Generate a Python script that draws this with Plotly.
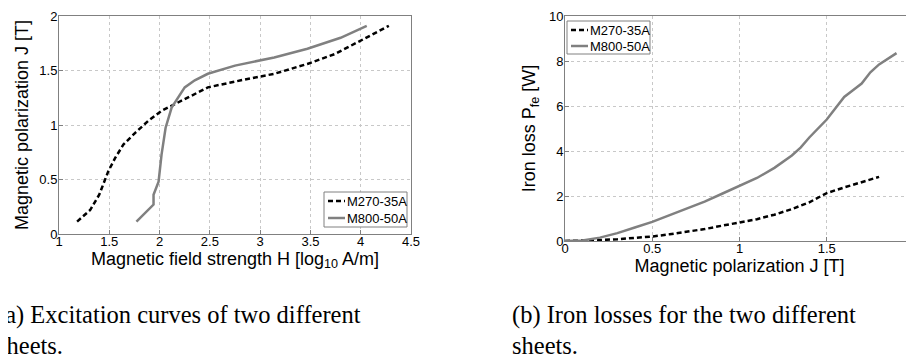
import plotly.graph_objects as go

# ---- data: excitation curves (left) ----
h_m270 = [1.18, 1.31, 1.40, 1.49, 1.56, 1.64, 1.76, 1.89, 2.02, 2.15, 2.29, 2.48, 2.81, 3.14, 3.47, 3.74, 3.97, 4.28]
j_m270 = [0.114, 0.22, 0.36, 0.575, 0.70, 0.82, 0.93, 1.04, 1.13, 1.19, 1.25, 1.345, 1.41, 1.47, 1.56, 1.65, 1.76, 1.91]
h_m800 = [1.77, 1.89, 1.94, 1.94, 1.99, 2.02, 2.06, 2.12, 2.19, 2.25, 2.35, 2.48, 2.75, 3.14, 3.47, 3.80, 4.06]
j_m800 = [0.114, 0.22, 0.27, 0.36, 0.48, 0.73, 0.975, 1.16, 1.26, 1.345, 1.41, 1.47, 1.545, 1.62, 1.70, 1.80, 1.91]

# ---- data: iron losses (right) ----
jl_m270 = [0, 0.1, 0.2, 0.3, 0.4, 0.5, 0.6, 0.7, 0.8, 0.9, 1.0, 1.1, 1.2, 1.3, 1.4, 1.5, 1.6, 1.7, 1.8]
p_m270 = [0, 0.01, 0.04, 0.08, 0.13, 0.2, 0.3, 0.4, 0.53, 0.68, 0.84, 0.97, 1.17, 1.42, 1.72, 2.13, 2.38, 2.6, 2.85]
jl_m800 = [0, 0.1, 0.2, 0.3, 0.4, 0.5, 0.6, 0.7, 0.8, 0.9, 1.0, 1.1, 1.2, 1.3, 1.35, 1.4, 1.5, 1.55, 1.6, 1.65, 1.7, 1.75, 1.8, 1.9]
p_m800 = [0, 0.02, 0.15, 0.35, 0.6, 0.85, 1.15, 1.45, 1.75, 2.1, 2.45, 2.8, 3.25, 3.8, 4.15, 4.6, 5.4, 5.9, 6.4, 6.7, 7.0, 7.5, 7.85, 8.35]

names = ["M270-35A", "M800-50A"]
left_xticks = [1, 1.5, 2, 2.5, 3, 3.5, 4, 4.5]
left_yticks = [0, 0.5, 1, 1.5, 2]
right_xticks = [0, 0.5, 1, 1.5, 2]
right_yticks = [0, 2, 4, 6, 8, 10]
captions = [["(a) Excitation curves of two different", "sheets."],
            ["(b) Iron losses for the two different", "sheets."]]

W, H = 914, 356
def px(x): return x / W
def py(y): return 1 - y / H

DASH = "5px,3px"
GRAY = "#808080"
fig = go.Figure()
dash_style = dict(color="black", width=2.5, dash=DASH)
solid_style = dict(color=GRAY, width=2.5)

fig.add_trace(go.Scatter(x=h_m270, y=j_m270, mode="lines", name=names[0], line=dash_style,
                         xaxis="x", yaxis="y"))
fig.add_trace(go.Scatter(x=h_m800, y=j_m800, mode="lines", name=names[1], line=solid_style,
                         xaxis="x", yaxis="y"))
fig.add_trace(go.Scatter(x=jl_m270, y=p_m270, mode="lines", name=names[0], line=dash_style,
                         xaxis="x2", yaxis="y2"))
fig.add_trace(go.Scatter(x=jl_m800, y=p_m800, mode="lines", name=names[1], line=solid_style,
                         xaxis="x2", yaxis="y2"))

SANS = "Liberation Sans, Arial"
tickfont = dict(family=SANS, size=13, color="black")
titlefont = dict(family=SANS, size=18, color="black")
axis_common = dict(showline=True, linecolor=GRAY, linewidth=1, mirror=True,
                   showgrid=True, gridcolor="#c8c8c8", griddash="dot", gridwidth=1,
                   ticks="inside", ticklen=4, tickcolor=GRAY, zeroline=False,
                   tickfont=tickfont, automargin=False)

fig.update_layout(
    width=W, height=H, margin=dict(l=0, r=0, t=0, b=0),
    paper_bgcolor="white", plot_bgcolor="white", showlegend=False,
    xaxis=dict(domain=[px(51), px(403)], range=[1, 4.5], tickvals=left_xticks,
               ticktext=[f"{v:g}" for v in left_xticks], anchor="y", ticklabelstandoff=-5,
               title=dict(text="Magnetic field strength H [log<sub>10</sub> A/m]", font=titlefont, standoff=0),
               **axis_common),
    yaxis=dict(domain=[py(226), py(8)], range=[0, 2], tickvals=left_yticks,
               ticktext=[f"{v:g}" for v in left_yticks], anchor="x", ticklabelstandoff=-2,
               title=dict(text="Magnetic polarization J [T]", font=titlefont, standoff=6),
               **axis_common),
    xaxis2=dict(domain=[px(557), px(906)], range=[0, 2], tickvals=right_xticks,
                ticktext=[f"{v:g}" for v in right_xticks], anchor="y2", ticklabelstandoff=-5,
                title=dict(text="Magnetic polarization J [T]", font=titlefont, standoff=0),
                **axis_common),
    yaxis2=dict(domain=[py(233), py(8)], range=[0, 10], tickvals=right_yticks,
                ticktext=[f"{v:g}" for v in right_yticks], anchor="x2", ticklabelstandoff=-2,
                title=dict(text="Iron loss P<sub>fe</sub> [W]", font=titlefont, standoff=8),
                **axis_common),
)

# ---- legends (boxed, MATLAB style) ----
def add_legend(x0, y0, x1, y1, rows):
    fig.add_shape(type="rect", xref="paper", yref="paper",
                  x0=px(x0), x1=px(x1), y0=py(y1), y1=py(y0),
                  line=dict(color=GRAY, width=1), fillcolor="white", layer="above")
    for (yy, name, style) in rows:
        fig.add_shape(type="line", xref="paper", yref="paper",
                      x0=px(x0 + 4), x1=px(x0 + 21), y0=py(yy), y1=py(yy),
                      line=style, layer="above")
        fig.add_annotation(x=px(x0 + 21), y=py(yy), xref="paper", yref="paper",
                           text=name, showarrow=False, xanchor="left", yanchor="middle",
                           font=dict(family=SANS, size=13, color="black"))

leg_dash = dict(color="black", width=2.5, dash=DASH)
leg_solid = dict(color=GRAY, width=2.5)
add_legend(316, 184, 399, 219, [(193, names[0], leg_dash), (210, names[1], leg_solid)])
add_legend(559, 13, 642, 46, [(22, names[0], leg_dash), (38, names[1], leg_solid)])

# ---- captions ----
capfont = dict(family="Liberation Serif", size=24.5, color="black")
for i, cx in enumerate([-13, 502]):
    for j, line in enumerate(captions[i]):
        fig.add_annotation(x=px(cx), y=py(307 + 30 * j), xref="paper", yref="paper",
                           text=line, showarrow=False, xanchor="left", yanchor="middle",
                           font=capfont)

fig.write_html("out.html")
